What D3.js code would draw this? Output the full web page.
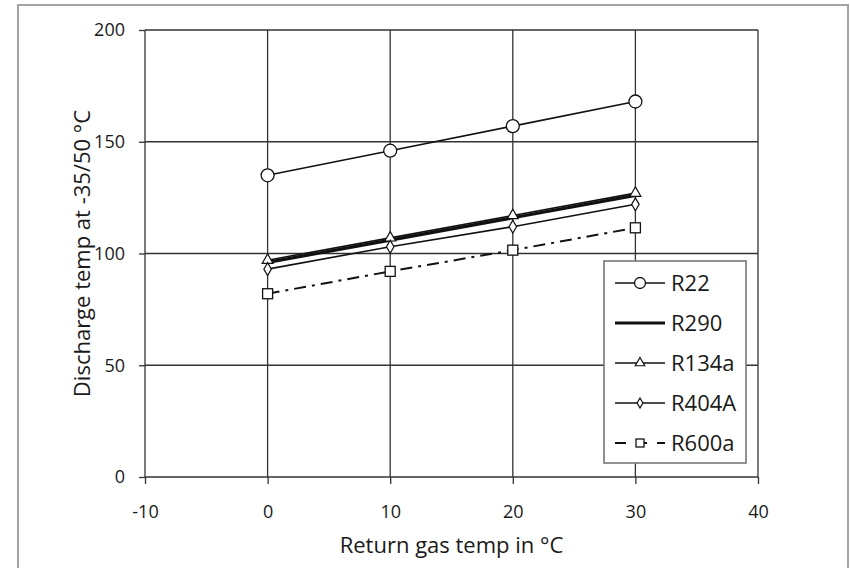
<!DOCTYPE html>
<html lang="en">
<head>
  <meta charset="UTF-8" />
  <title>Discharge temp vs return gas temp</title>
  <script src="https://cdn.jsdelivr.net/npm/d3@7/dist/d3.min.js"></script>
  <style>
    html, body { margin: 0; padding: 0; background: #fff; }
    body { font-family: "Open Sans", sans-serif; }
    #viz { width: 850px; height: 568px; }
  </style>
</head>
<body>
  <div id="viz"></div>

  <script>
  // data
  const returnGas = [0, 10, 20, 30];
  const r22   = [135, 146, 157, 168];
  const r290  = [96, 106, 116, 126];
  const r134a = [97, 107, 117, 127];
  const r404a = [93, 103, 112, 122];
  const r600a = [82, 92, 101.5, 111.5];
  const xTicks = [-10, 0, 10, 20, 30, 40];
  const yTicks = [0, 50, 100, 150, 200];

  const series = [
    { name: 'R22',   values: r22,   width: 1.6, dash: null,       marker: 'circle' },
    { name: 'R290',  values: r290,  width: 3.2, dash: null,       marker: null },
    { name: 'R134a', values: r134a, width: 1.6, dash: null,       marker: 'triangle' },
    { name: 'R404A', values: r404a, width: 1.6, dash: null,       marker: 'diamond' },
    { name: 'R600a', values: r600a, width: 2,   dash: '12 6 3 6', marker: 'square' }
  ];

  function drawViz() {
    const svg = d3.select('#viz').append('svg')
      .attr('width', 850).attr('height', 568);

    // outer frame
    svg.append('rect')
      .attr('x', 18).attr('y', 5).attr('width', 830).attr('height', 600)
      .attr('fill', 'none').attr('stroke', '#a3a3a3').attr('stroke-width', 2);

    const x = d3.scaleLinear().domain([-10, 40]).range([145, 758]);
    const y = d3.scaleLinear().domain([0, 200]).range([477, 30]);
    const ink = '#333';

    // grid
    const g = svg.append('g');
    g.selectAll('line.vg').data(xTicks).enter().append('line')
      .attr('x1', d => x(d)).attr('x2', d => x(d))
      .attr('y1', y(0)).attr('y2', y(200))
      .attr('stroke', ink).attr('stroke-width', 1.3);
    g.selectAll('line.hg').data(yTicks).enter().append('line')
      .attr('x1', x(-10)).attr('x2', x(40))
      .attr('y1', d => y(d)).attr('y2', d => y(d))
      .attr('stroke', ink).attr('stroke-width', 1.3);

    // axes (plain hyphen for negatives, like the original)
    const yAxis = svg.append('g')
      .attr('transform', `translate(${x(-10)},0)`)
      .call(d3.axisLeft(y).tickValues(yTicks).tickSize(6).tickPadding(14)
        .tickFormat(d => String(d)));
    const xAxis = svg.append('g')
      .attr('transform', `translate(0,${y(0)})`)
      .call(d3.axisBottom(x).tickValues(xTicks).tickSize(7).tickPadding(21)
        .tickFormat(d => String(d)));
    [yAxis, xAxis].forEach(a => {
      a.select('.domain').remove();
      a.selectAll('line').attr('stroke', ink).attr('stroke-width', 1.3);
      a.selectAll('text').attr('fill', '#1a1a1a')
        .style('font-family', '"Open Sans", sans-serif').style('font-size', '18px');
    });

    // axis titles
    svg.append('text')
      .attr('x', (x(-10) + x(40)) / 2).attr('y', 553)
      .attr('text-anchor', 'middle').attr('fill', '#1a1a1a')
      .style('font-size', '22px')
      .text('Return gas temp in °C');
    svg.append('text')
      .attr('transform', `translate(90,${(y(0) + y(200)) / 2}) rotate(-90)`)
      .attr('text-anchor', 'middle').attr('fill', '#1a1a1a')
      .style('font-size', '22px')
      .text('Discharge temp at -35/50 °C');

    // markers
    function marker(sel, type, cx, cy, s) {
      if (type === 'circle') {
        sel.append('circle').attr('cx', cx).attr('cy', cy).attr('r', s)
          .attr('fill', '#fff').attr('stroke', '#111').attr('stroke-width', 1.3);
      } else if (type === 'triangle') {
        const t = d3.symbol().type(d3.symbolTriangle).size(s * s * 3.2);
        sel.append('path').attr('d', t()).attr('transform', `translate(${cx},${cy})`)
          .attr('fill', '#fff').attr('stroke', '#111').attr('stroke-width', 1.2);
      } else if (type === 'diamond') {
        const t = d3.symbol().type(d3.symbolDiamond).size(s * s * 2.4);
        sel.append('path').attr('d', t()).attr('transform', `translate(${cx},${cy})`)
          .attr('fill', '#fff').attr('stroke', '#111').attr('stroke-width', 1.2);
      } else if (type === 'square') {
        sel.append('rect').attr('x', cx - s).attr('y', cy - s)
          .attr('width', 2 * s).attr('height', 2 * s)
          .attr('fill', '#fff').attr('stroke', '#111').attr('stroke-width', 1.3);
      }
    }

    const line = d3.line().x(d => x(d[0])).y(d => y(d[1]));
    const sizes = { circle: 6.5, triangle: 4, diamond: 4.5, square: 5 };

    series.forEach(s => {
      const pts = returnGas.map((v, i) => [v, s.values[i]]);
      svg.append('path').datum(pts)
        .attr('fill', 'none').attr('stroke', '#111')
        .attr('stroke-width', s.width)
        .attr('stroke-dasharray', s.dash)
        .attr('d', line);
    });
    series.forEach(s => {
      if (!s.marker) return;
      const mg = svg.append('g');
      returnGas.forEach((v, i) => marker(mg, s.marker, x(v), y(s.values[i]), sizes[s.marker]));
    });

    // legend
    const lg = svg.append('g');
    lg.append('rect')
      .attr('x', 604).attr('y', 261).attr('width', 142).attr('height', 202)
      .attr('fill', '#fff').attr('stroke', '#777').attr('stroke-width', 1.6);
    const legSizes = { circle: 5.5, triangle: 3.5, diamond: 3.5, square: 4 };
    series.forEach((s, i) => {
      const ly = 283 + i * 40;
      lg.append('line')
        .attr('x1', 615).attr('x2', 665).attr('y1', ly).attr('y2', ly)
        .attr('stroke', '#111').attr('stroke-width', s.width)
        .attr('stroke-dasharray', s.dash ? '11 10' : null);
      if (s.marker) marker(lg, s.marker, 640, ly, legSizes[s.marker]);
      lg.append('text')
        .attr('x', 671).attr('y', ly).attr('dy', '0.35em')
        .attr('fill', '#1a1a1a').style('font-size', '22px')
        .text(s.name);
    });
  }

  document.addEventListener('DOMContentLoaded', drawViz);
  </script>
</body>
</html>
